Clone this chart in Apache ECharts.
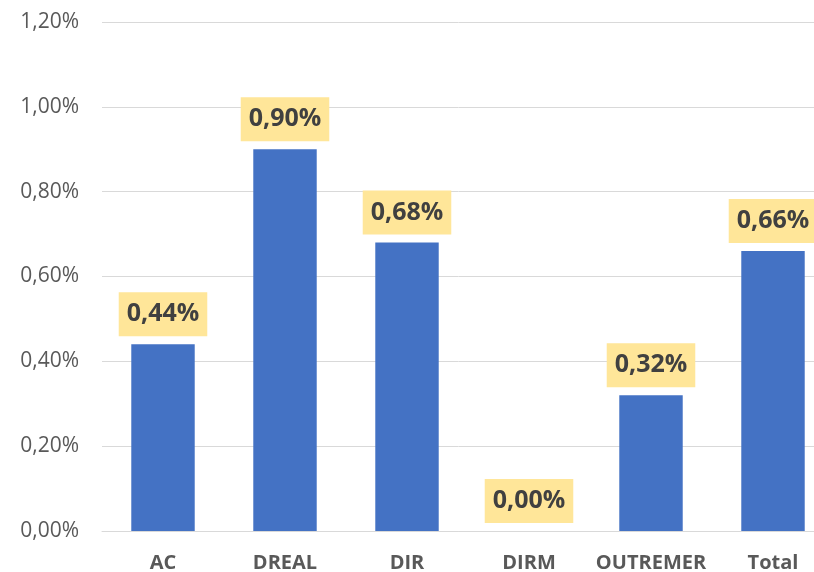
<!DOCTYPE html>
<html>
<head>
<meta charset="utf-8">
<script src="https://cdn.jsdelivr.net/npm/echarts@6/dist/echarts.min.js"></script>
<style>html,body{margin:0;padding:0;background:#fff}#c{width:814px;height:572px}</style>
</head>
<body>
<div id="c"></div>
<script>
const categories = ['AC', 'DREAL', 'DIR', 'DIRM', 'OUTREMER', 'Total'];
const values = [0.44, 0.90, 0.68, 0.00, 0.32, 0.66];
const yTicks = [0, 0.2, 0.4, 0.6, 0.8, 1.0, 1.2];

const fmt = v => v.toFixed(2).replace('.', ',') + '%';
const chart = echarts.init(document.getElementById('c'));
chart.setOption({
  animation: false,
  grid: { left: 102, width: 732, top: 22, bottom: 41, containLabel: false, outerBoundsMode: 'none' },
  xAxis: {
    type: 'category',
    data: categories,
    axisLine: { lineStyle: { color: '#d9d9d9', width: 1 } },
    axisTick: { show: false },
    axisLabel: { interval: 0, color: '#595959', fontSize: 20, fontWeight: 'bold', fontFamily: 'Open Sans', margin: 22 }
  },
  yAxis: {
    type: 'value',
    min: yTicks[0],
    max: yTicks[yTicks.length - 1],
    interval: 0.2,
    axisLine: { show: false },
    axisTick: { show: false },
    splitLine: { lineStyle: { color: '#d9d9d9', width: 1 } },
    axisLabel: { color: '#595959', fontSize: 21, fontFamily: 'Open Sans', margin: 23, formatter: fmt }
  },
  series: [{
    type: 'bar',
    data: values,
    barWidth: '52%',
    itemStyle: { color: '#4472C4' },
    label: {
      show: true,
      position: 'top',
      distance: 8,
      formatter: p => fmt(p.value),
      color: '#404040',
      fontSize: 25,
      lineHeight: 28,
      fontWeight: 'bold',
      fontFamily: 'Open Sans',
      backgroundColor: '#FFE699',
      padding: [8, 8, 8, 8]
    }
  }]
});
</script>
</body>
</html>
